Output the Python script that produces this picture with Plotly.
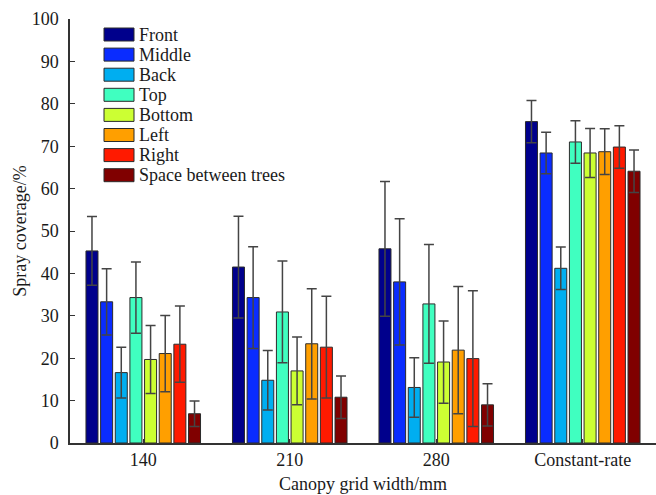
import plotly.graph_objects as go

categories = ["140", "210", "280", "Constant-rate"]
series_names = ["Front", "Middle", "Back", "Top", "Bottom", "Left", "Right", "Space between trees"]
series_colors = ["#00008C", "#0A2CFF", "#00AEF0", "#40FFC0", "#CCFF33", "#FF9F00", "#FF1A00", "#800000"]

front = [45.3, 41.5, 45.8, 75.8]
middle = [33.3, 34.3, 38.0, 68.4]
back = [16.6, 14.8, 13.1, 41.2]
top = [34.3, 30.9, 32.8, 71.0]
bottom = [19.7, 17.0, 19.1, 68.4]
left = [21.1, 23.4, 21.9, 68.7]
right = [23.3, 22.6, 19.9, 69.8]
space = [6.9, 10.8, 9.0, 64.1]

front_err = [8.1, 12.0, 15.9, 5.0]
middle_err = [7.8, 12.0, 14.9, 4.9]
back_err = [6.0, 7.0, 7.0, 5.0]
top_err = [8.4, 12.0, 14.0, 5.0]
bottom_err = [8.0, 8.0, 9.7, 5.8]
left_err = [9.0, 13.0, 15.0, 5.4]
right_err = [9.0, 12.0, 16.0, 5.0]
space_err = [3.0, 5.0, 5.0, 5.0]

values = [front, middle, back, top, bottom, left, right, space]
errors = [front_err, middle_err, back_err, top_err, bottom_err, left_err, right_err, space_err]

FONT = "Liberation Serif, Times New Roman, serif"
W, H = 656, 495
ML, MR, MT, MB = 70, 0, 19, 52
PW, PH = W - ML - MR, H - MT - MB

fig = go.Figure()
for name, col, v, e in zip(series_names, series_colors, values, errors):
    fig.add_trace(go.Bar(
        x=categories, y=v, name=name,
        marker=dict(color=col, line=dict(color="#2b2b2b", width=1)),
        error_y=dict(type="data", array=e, visible=True, color="#444444", thickness=1.5, width=5),
        showlegend=False,
    ))

# custom legend (wide swatches like the original)
shapes = []
annotations = []
for i, (name, col) in enumerate(zip(series_names, series_colors)):
    cy = 34.5 + 20.1 * i
    y0 = (H - MB - (cy + 6.5)) / PH
    y1 = (H - MB - (cy - 6.5)) / PH
    shapes.append(dict(type="rect", xref="paper", yref="paper",
                       x0=(104 - ML) / PW, x1=(134 - ML) / PW, y0=y0, y1=y1,
                       fillcolor=col, line=dict(color="#2b2b2b", width=1)))
    annotations.append(dict(xref="paper", yref="paper", x=(137 - ML) / PW,
                            y=(H - MB - cy) / PH, text=name, showarrow=False,
                            xanchor="left", yanchor="middle",
                            font=dict(family=FONT, size=18, color="#1a1a1a")))

fig.update_layout(
    width=W, height=H,
    margin=dict(l=ML, r=MR, t=MT, b=MB, pad=0),
    paper_bgcolor="white", plot_bgcolor="white",
    barmode="group", bargap=0.2, bargroupgap=0.18,
    font=dict(family=FONT, size=18, color="#1a1a1a"),
    shapes=shapes, annotations=annotations,
    showlegend=False,
)
fig.update_xaxes(
    automargin=False,
    showline=True, linecolor="#333333", linewidth=1.5,
    ticks="inside", ticklen=4, tickcolor="#333333",
    showgrid=False, ticklabelstandoff=0,
    title=dict(text="Canopy grid width/mm", font=dict(family=FONT, size=18), standoff=8),
)
fig.update_yaxes(
    automargin=False,
    range=[0, 100], dtick=10, showline=True, linecolor="#333333", linewidth=1.5,
    ticks="inside", ticklen=5, tickcolor="#333333",
    showgrid=False, zeroline=False, ticklabelstandoff=6,
    title=dict(text="Spray coverage/%", font=dict(family=FONT, size=18), standoff=0),
)

fig.write_html("out.html", config={"displayModeBar": False},
               post_script="document.body.style.margin='0px';")
